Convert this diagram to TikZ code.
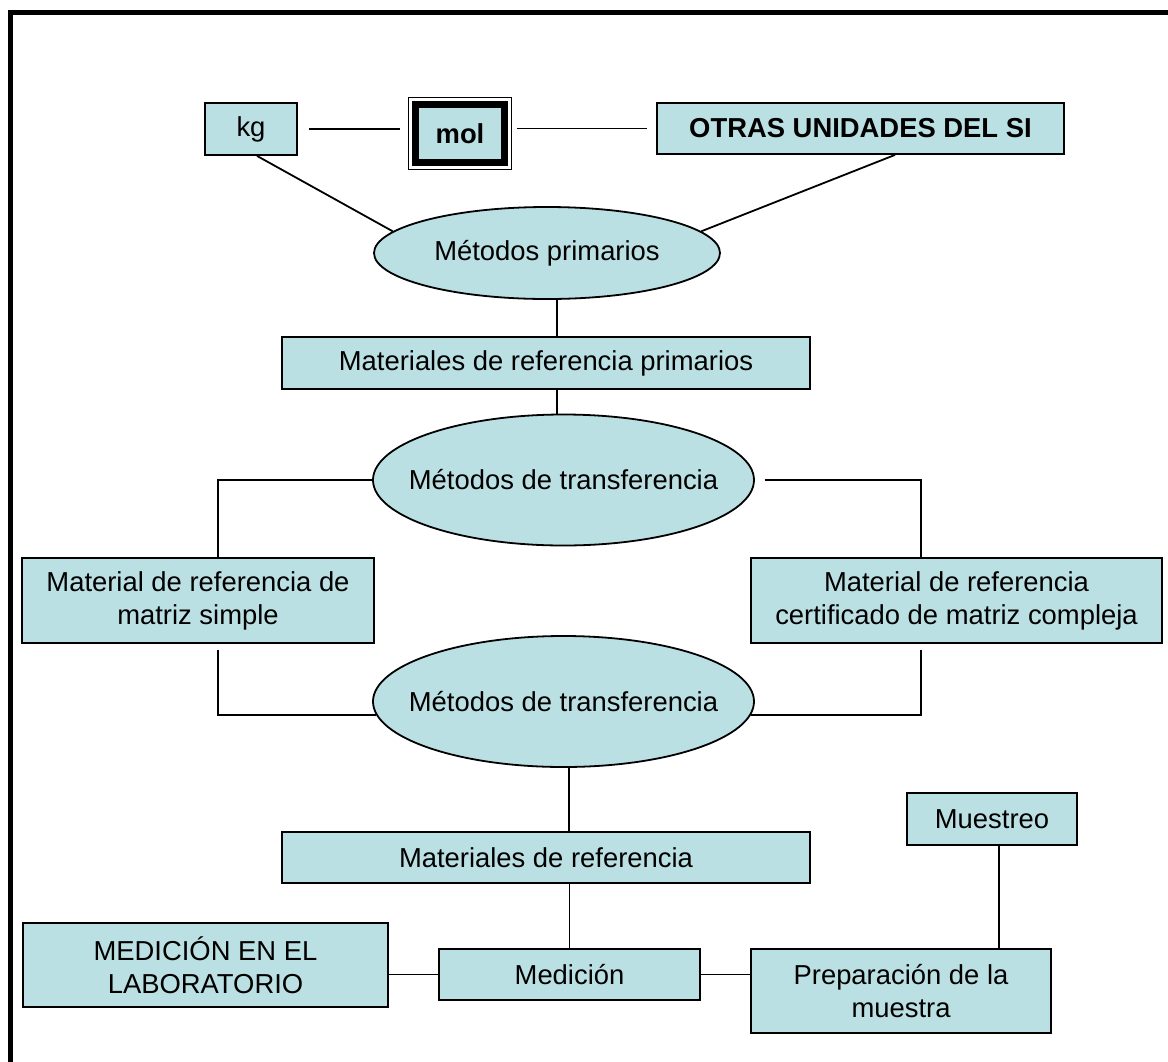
\documentclass[tikz,border=0pt]{standalone}
\usepackage{fontspec}
\setmainfont{Liberation Sans}
\usetikzlibrary{shapes.geometric,calc}
\definecolor{celeste}{RGB}{187,224,227}
\newcommand{\fsz}{\fontsize{27.4}{33}\selectfont}

\begin{document}
\begin{tikzpicture}[
  x=1pt, y=-1pt,
  cell/.style={draw, line width=1.8pt, fill=celeste, rectangle, inner sep=0pt,
               font=\fsz, align=center},
  oval/.style={draw, line width=1.8pt, fill=celeste, ellipse, inner xsep=-40pt,
               inner ysep=-10pt, font=\fsz, align=center},
  link/.style={line width=1.8pt}
]
  \useasboundingbox (0,0) rectangle (1168,1061);

  % frame (cut at right and bottom)
  \draw[line width=5pt] (10.8,1090) -- (10.8,12.5) -- (1190,12.5);

  % units
  \node[cell, minimum width=92, minimum height=52] (kg) at (251,129) {kg};
  \node[cell, line width=7pt, minimum width=89, minimum height=58, font=\fsz\bfseries]
    (mol) at (460,133.5) {mol};
  \draw[line width=1.2pt] ($(mol.north west)+(-3.5,-3.5)$) rectangle ($(mol.south east)+(3.5,3.5)$);
  \node[cell, minimum width=407, minimum height=51, font=\fsz\bfseries]
    (otras) at (860.5,128.5) {OTRAS UNIDADES DEL SI};

  % methods and materials
  \node[oval, minimum width=346, minimum height=92] (e1) at (547,253) {Métodos primarios};
  \node[cell, minimum width=528, minimum height=52] (prim) at (546,363) {Materiales de referencia primarios};
  \node[oval, minimum width=381, minimum height=131] (e2) at (563.5,480) {Métodos de transferencia};
  \node[cell, minimum width=352, minimum height=85] (simple) at (198,600.5)
    {Material de referencia de\\matriz simple};
  \node[cell, minimum width=411, minimum height=85] (compl) at (956.5,600.5)
    {Material de referencia\\certificado de matriz compleja};
  \node[oval, minimum width=381, minimum height=131] (e3) at (563.5,701.5) {Métodos de transferencia};
  \node[cell, minimum width=528, minimum height=51] (matref) at (546,857.5) {Materiales de referencia};

  % laboratory
  \node[cell, minimum width=170, minimum height=52] (muestreo) at (992,819) {Muestreo};
  \node[cell, minimum width=365, minimum height=84] (lab) at (205.5,965) {MEDICIÓN EN EL\\LABORATORIO};
  \node[cell, minimum width=261, minimum height=51] (medicion) at (569.5,974.5) {Medición};
  \node[cell, minimum width=300, minimum height=84] (prep) at (901,991) {Preparación de la\\muestra};

  % connectors
  \draw[link, shorten <=11pt, shorten >=12pt] (kg.east) -- (kg.east -| mol.west);
  \draw[link, shorten <=9pt, shorten >=9pt] (mol.east |- otras.west) -- (otras.west);
  \draw[link] ($(kg.south)+(6,0)$) -- (e1.172);
  \draw[link] ($(otras.south)+(34.5,0)$) -- (e1.8);
  \draw[link] ($(e1.south)+(10,0)$) -- ($(prim.north)+(11,0)$);
  \draw[link] ($(prim.south)+(11,0)$) -- ($(e2.north)+(-6.5,0)$);
  \draw[link] (e2.west) -| ($(simple.north)+(20,0)$);
  \draw[link, shorten <=10pt] (e2.east) -| ($(compl.north)+(-35.5,0)$);
  \draw[link, shorten <=6pt] ($(simple.south)+(20,0)$) |- ($(e3.west)+(4,13.5)$);
  \draw[link, shorten <=6pt] ($(compl.south)+(-35.5,0)$) |- ($(e3.east)+(-4,13.5)$);
  \draw[link] ($(e3.south)+(5.5,0)$) -- ($(matref.north)+(23,0)$);
  \draw[link] (matref.south -| medicion.north) -- (medicion.north);
  \draw[link] (lab.east |- medicion.west) -- (medicion.west);
  \draw[link] (medicion.east) -- (medicion.east -| prep.west);
  \draw[link] ($(muestreo.south)+(7,0)$) -- ($(prep.north)+(98,0)$);
\end{tikzpicture}
\end{document}
